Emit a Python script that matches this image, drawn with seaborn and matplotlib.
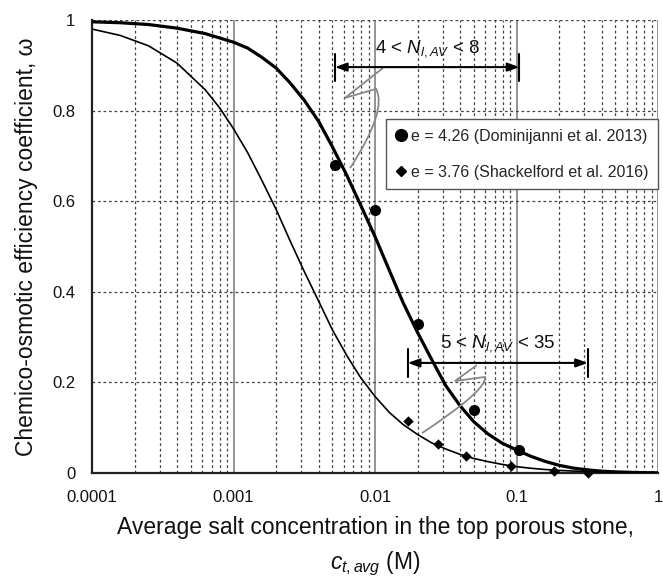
import numpy as np
import pandas as pd
import seaborn as sns
import matplotlib
matplotlib.use("Agg")
import matplotlib.pyplot as plt
from matplotlib.path import Path
from matplotlib.patches import PathPatch
from matplotlib.ticker import FixedLocator, FixedFormatter, LogLocator, NullFormatter
from matplotlib.lines import Line2D

# ---------------- data ----------------
# model curve, e = 4.26 (thick)
thick_c = [0.0001, 0.000158, 0.000251, 0.000398, 0.000631, 0.001, 0.00126,
           0.00158, 0.002, 0.0025, 0.00316, 0.004, 0.005, 0.0063, 0.0079,
           0.01, 0.0126, 0.0158, 0.02, 0.025, 0.0316, 0.04, 0.05, 0.063,
           0.079, 0.1, 0.126, 0.158, 0.2, 0.25, 0.316, 0.4, 0.5, 0.63, 0.79, 1.0]
thick_w = [0.996, 0.994, 0.990, 0.982, 0.970, 0.951, 0.938,
           0.918, 0.894, 0.862, 0.823, 0.776, 0.720, 0.658, 0.592,
           0.522, 0.448, 0.376, 0.310, 0.252, 0.193, 0.148, 0.113, 0.086,
           0.066, 0.051, 0.037, 0.026, 0.017, 0.011, 0.007, 0.004, 0.0025,
           0.0015, 0.0008, 0.0004]
# model curve, e = 3.76 (thin)
thin_c = [0.0001, 0.000158, 0.000251, 0.000398, 0.000631, 0.000794, 0.001,
          0.00126, 0.00158, 0.002, 0.0025, 0.00316, 0.004, 0.005, 0.0063,
          0.0079, 0.01, 0.0126, 0.0158, 0.02, 0.025, 0.0316, 0.04, 0.05,
          0.063, 0.079, 0.1, 0.126, 0.158, 0.2, 0.25, 0.316, 0.4, 0.5, 0.63,
          0.79, 1.0]
thin_w = [0.980, 0.966, 0.943, 0.905, 0.846, 0.807, 0.760,
          0.707, 0.647, 0.582, 0.514, 0.445, 0.379, 0.316, 0.260,
          0.211, 0.169, 0.134, 0.107, 0.085, 0.067, 0.053, 0.041, 0.032,
          0.025, 0.019, 0.014, 0.0105, 0.0078, 0.0058, 0.0043, 0.0032,
          0.0023, 0.0017, 0.0012, 0.0009, 0.0006]
# measured data
dom_c = [0.0052, 0.01, 0.02, 0.05, 0.105]
dom_w = [0.68, 0.58, 0.33, 0.14, 0.05]
sha_c = [0.017, 0.028, 0.044, 0.091, 0.184, 0.32]
sha_w = [0.115, 0.064, 0.038, 0.015, 0.004, 0.0]

legend_labels = ["e = 4.26 (Dominijanni et al. 2013)",
                 "e = 3.76 (Shackelford et al. 2016)"]
range_labels = [r"4 < $N_{l,AV}$ < 8", r"5 < $N_{l,AV}$ < 35"]
range_levels = [0.896, 0.243]

x_ticks = [0.0001, 0.001, 0.01, 0.1, 1]
x_tick_labels = ["0.0001", "0.001", "0.01", "0.1", "1"]
y_ticks = [0, 0.2, 0.4, 0.6, 0.8, 1.0]
y_tick_labels = ["0", "0.2", "0.4", "0.6", "0.8", "1"]

xlabel = "Average salt concentration in the top porous stone,\n$c_{t,avg}$ (M)"
ylabel = "Chemico-osmotic efficiency coefficient, \u03c9"

# ---------------- style ----------------
sns.set_theme(style="white")
plt.rcParams["font.family"] = ["Liberation Sans", "DejaVu Sans"]
plt.rcParams["mathtext.fontset"] = "custom"
plt.rcParams["mathtext.rm"] = "Liberation Sans"
plt.rcParams["mathtext.it"] = "Liberation Sans:italic"

fig = plt.figure(figsize=(6.63, 5.86), dpi=100)
ax = fig.add_axes([92 / 663, 1 - 473 / 586, 566 / 663, 453 / 586])

df_thick = pd.DataFrame({"c": thick_c, "w": thick_w})
df_thin = pd.DataFrame({"c": thin_c, "w": thin_w})
df_dom = pd.DataFrame({"c": dom_c, "w": dom_w})
df_sha = pd.DataFrame({"c": sha_c, "w": sha_w})

sns.lineplot(data=df_thick, x="c", y="w", ax=ax, color="black", lw=2.3,
             estimator=None, sort=False, zorder=4, solid_joinstyle="round")
sns.lineplot(data=df_thin, x="c", y="w", ax=ax, color="black", lw=1.2,
             estimator=None, sort=False, zorder=4, solid_joinstyle="round")
sns.scatterplot(data=df_dom, x="c", y="w", ax=ax, color="black", marker="o",
                s=64, edgecolor="black", linewidth=0, zorder=5, clip_on=False)
sns.scatterplot(data=df_sha, x="c", y="w", ax=ax, color="black", marker="D",
                s=28, edgecolor="black", linewidth=0, zorder=5, clip_on=False)

ax.set_xscale("log")
ax.set_xlim(1e-4, 1)
ax.set_ylim(0, 1)
ax.xaxis.set_major_locator(FixedLocator(x_ticks))
ax.xaxis.set_major_formatter(FixedFormatter(x_tick_labels))
ax.xaxis.set_minor_locator(LogLocator(base=10, subs=np.arange(2, 10), numticks=20))
ax.xaxis.set_minor_formatter(NullFormatter())
ax.yaxis.set_major_locator(FixedLocator(y_ticks))
ax.yaxis.set_major_formatter(FixedFormatter(y_tick_labels))

ax.tick_params(axis="both", which="both", length=0, labelsize=12,
               labelcolor="#111111")
ax.tick_params(axis="x", pad=12)
ax.tick_params(axis="y", pad=12)

# grid
ax.grid(False)
ax.xaxis.grid(True, which="major", color="#777777", lw=1.1, ls="-")
ax.xaxis.grid(True, which="minor", color="#444444", lw=0.9, ls=(0, (2.2, 2.2)))
ax.yaxis.grid(True, which="major", color="#444444", lw=0.9, ls=(0, (2.2, 2.2)))
ax.set_axisbelow(True)

for side in ["top", "right"]:
    ax.spines[side].set_visible(False)
for side in ["left", "bottom"]:
    ax.spines[side].set_color("#222222")
    ax.spines[side].set_linewidth(1.6)

ax.set_xlabel(xlabel, fontsize=16.5, labelpad=8, linespacing=1.55,
              color="#111111")
ax.set_ylabel(ylabel, fontsize=16.5, labelpad=10, color="#111111")

# legend
handles = [Line2D([], [], marker="o", color="black", ls="none", markersize=8.5),
           Line2D([], [], marker="D", color="black", ls="none", markersize=5)]
leg = ax.legend(handles, legend_labels, loc="upper right",
                bbox_to_anchor=(1.0, 0.781), borderaxespad=0, fontsize=11.5,
                frameon=True, fancybox=False, edgecolor="#555555",
                framealpha=1, handlelength=0.6, handletextpad=0.35,
                labelspacing=1.3, borderpad=0.6)
leg.get_frame().set_linewidth(1.0)
leg.set_zorder(6)

# range arrows
blend = ax.get_xaxis_transform()
datasets = [dom_c, sha_c]
for cs, lvl, lab in zip(datasets, range_levels, range_labels):
    x0, x1 = min(cs), max(cs)
    ax.annotate("", xy=(x1, lvl), xytext=(x0, lvl), xycoords=blend,
                arrowprops=dict(arrowstyle="<|-|>,head_length=0.7,head_width=0.25",
                                color="black", lw=1.5,
                                mutation_scale=10, shrinkA=0, shrinkB=0),
                zorder=6)
    for xx in (x0, x1):
        ax.plot([xx, xx], [lvl - 0.03, lvl + 0.03], transform=blend,
                color="black", lw=1.5, zorder=6)
    xc = 10 ** ((np.log10(x0) + np.log10(x1)) / 2)
    ax.text(xc, lvl + 0.042, lab, transform=blend, ha="center", va="center",
            fontsize=13.5, color="#111111", zorder=6)

# grey leader squiggles (axes fraction)
squiggles = [
    [(0.514, 0.894), (0.447, 0.828), (0.502, 0.848), (0.522, 0.800), (0.456, 0.673)],
    [(0.680, 0.238), (0.641, 0.203), (0.694, 0.212), (0.700, 0.185), (0.583, 0.088)],
]
for pts in squiggles:
    codes = [Path.MOVETO, Path.LINETO, Path.LINETO, Path.CURVE3, Path.CURVE3]
    ax.add_patch(PathPatch(Path(pts, codes), transform=ax.transAxes,
                           fill=False, edgecolor="#888888", lw=1.3, zorder=5))

fig.savefig("out.png", dpi=100)
